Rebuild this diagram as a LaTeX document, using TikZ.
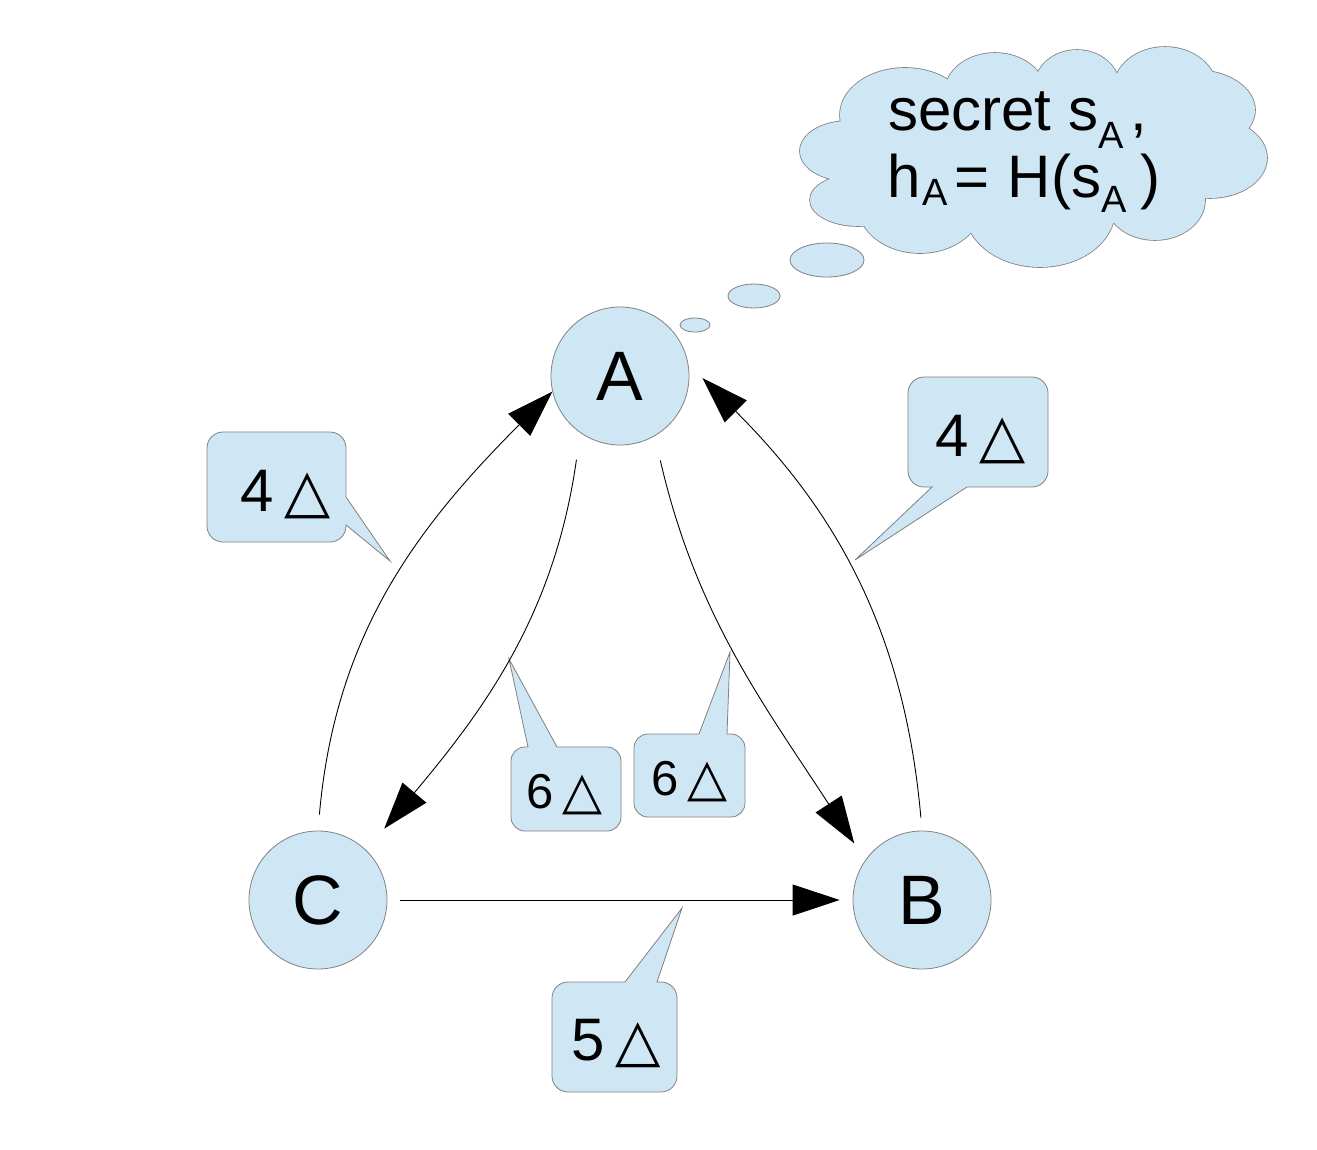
\documentclass[tikz,border=0pt]{standalone}
\usepackage{fontspec}
\setmainfont{Liberation Sans}
\newfontfamily\symfont{DejaVu Sans}
\usetikzlibrary{arrows.meta}
\definecolor{bubble}{RGB}{207,231,245}
\definecolor{rim}{RGB}{128,128,128}
\begin{document}
\begin{tikzpicture}[x=1pt,y=1pt,
  party/.style={circle, fill=bubble, draw=rim, line width=0.8pt, minimum size=138pt, inner sep=0pt, font=\fontsize{70}{80}\selectfont},
  link/.style={line width=0.9pt, -{Triangle[length=47pt,width=31pt]}},
  balloon/.style={fill=bubble, draw=rim, line width=0.8pt},
  puffline/.style={draw=rim, line width=1.6pt},
  pufffill/.style={fill=bubble},
  tag/.style={anchor=base west, inner sep=0pt},
  big/.style={font=\fontsize{60}{60}\selectfont},
  mid/.style={font=\fontsize{49}{49}\selectfont}
]
\useasboundingbox (0,0) rectangle (1317,-1149);

% ---------- thought cloud ----------
\foreach \cx/\cy/\rx/\ry in {848/151/48/30, 858/200/48/26, 920/205/62/48, 1040/210/75/57,
  1155/200/50/40, 1210/158/57/40, 1195/110/60/40, 1165/90/52/43, 1077/88/43/38,
  995/92/50/39, 905/115/65/47}
  \path[puffline] (\cx,-\cy) ellipse [x radius=\rx, y radius=\ry];
\foreach \cx/\cy/\rx/\ry in {848/151/48/30, 858/200/48/26, 920/205/62/48, 1040/210/75/57,
  1155/200/50/40, 1210/158/57/40, 1195/110/60/40, 1165/90/52/43, 1077/88/43/38,
  995/92/50/39, 905/115/65/47, 1030/160/190/70}
  \path[pufffill] (\cx,-\cy) ellipse [x radius=\rx, y radius=\ry];
\draw[balloon] (827,-260) ellipse [x radius=37, y radius=17];
\draw[balloon] (754,-296) ellipse [x radius=26, y radius=12];
\draw[balloon] (695,-325) ellipse [x radius=15, y radius=7];

\node[tag, big] (s1) at (888,-130) {secret s\raisebox{-18pt}{\fontsize{38}{38}\selectfont A}\hspace{7pt},};
\node[tag, big] (s2) at (887,-197) {h\hspace{2pt}\raisebox{-8pt}{\fontsize{38}{38}\selectfont A}\hspace{7pt}=\hspace{18pt}H(s\raisebox{-15pt}{\fontsize{38}{38}\selectfont A}\hspace{14pt})};

% ---------- parties ----------
\node[party] (A) at (620,-376) {A};
\node[party] (C) at (318,-900) {C};
\node[party] (B) at (922,-900) {B};

% ---------- callouts ----------
\draw[balloon] (223,-432) -- (330,-432) arc[start angle=90,end angle=0,radius=16]
  -- (346,-497) -- (390,-561) -- (346,-525) -- (346,-526) arc[start angle=0,end angle=-90,radius=16]
  -- (223,-542) arc[start angle=270,end angle=180,radius=16]
  -- (207,-448) arc[start angle=180,end angle=90,radius=16] -- cycle;
\draw[balloon] (924,-377) -- (1032,-377) arc[start angle=90,end angle=0,radius=16]
  -- (1048,-471) arc[start angle=0,end angle=-90,radius=16]
  -- (967,-487) -- (855,-560) -- (932,-487)
  -- (924,-487) arc[start angle=270,end angle=180,radius=16]
  -- (908,-393) arc[start angle=180,end angle=90,radius=16] -- cycle;
\draw[balloon] (568,-982) -- (625,-982) -- (682,-908) -- (657,-982)
  -- (661,-982) arc[start angle=90,end angle=0,radius=16]
  -- (677,-1076) arc[start angle=0,end angle=-90,radius=16]
  -- (568,-1092) arc[start angle=270,end angle=180,radius=16]
  -- (552,-998) arc[start angle=180,end angle=90,radius=16] -- cycle;
\draw[balloon] (525,-747) -- (528,-747) -- (509,-659) -- (557,-747)
  -- (607,-747) arc[start angle=90,end angle=0,radius=14]
  -- (621,-817) arc[start angle=0,end angle=-90,radius=14]
  -- (525,-831) arc[start angle=270,end angle=180,radius=14]
  -- (511,-761) arc[start angle=180,end angle=90,radius=14] -- cycle;
\draw[balloon] (648,-734) -- (699,-734) -- (730,-652) -- (727,-734)
  -- (731,-734) arc[start angle=90,end angle=0,radius=14]
  -- (745,-803) arc[start angle=0,end angle=-90,radius=14]
  -- (648,-817) arc[start angle=270,end angle=180,radius=14]
  -- (634,-748) arc[start angle=180,end angle=90,radius=14] -- cycle;

\node[tag, big] (q1) at (240,-511) {4\hspace{11pt}{\symfont\fontsize{60}{60}\selectfont △}};
\node[tag, big] (q2) at (935,-456) {4\hspace{11pt}{\symfont\fontsize{60}{60}\selectfont △}};
\node[tag, big] (q3) at (571,-1060) {5\hspace{11pt}{\symfont\fontsize{59}{59}\selectfont △}};
\node[tag, mid] (q4) at (526,-808) {6\hspace{9pt}{\symfont\fontsize{52}{52}\selectfont △}};
\node[tag, mid] (q5) at (651,-795) {6\hspace{9pt}{\symfont\fontsize{52}{52}\selectfont △}};

% ---------- transfers ----------
\draw[link, shorten <=16pt] (C.90) to[out=85,in=225] (A.193);
\draw[link, shorten <=27pt, shorten >=28pt] (A.235) to[out=262,in=50] (C.46);
\draw[link, shorten <=25pt, shorten >=20pt] (A.300) to[out=283,in=123] (B.145);
\draw[link, shorten <=13pt, shorten >=20pt] (B.90) to[out=95,in=315] (A.10);
\draw[link, shorten <=13pt, shorten >=13pt] (C.east) -- (B.west);
\end{tikzpicture}
\end{document}
